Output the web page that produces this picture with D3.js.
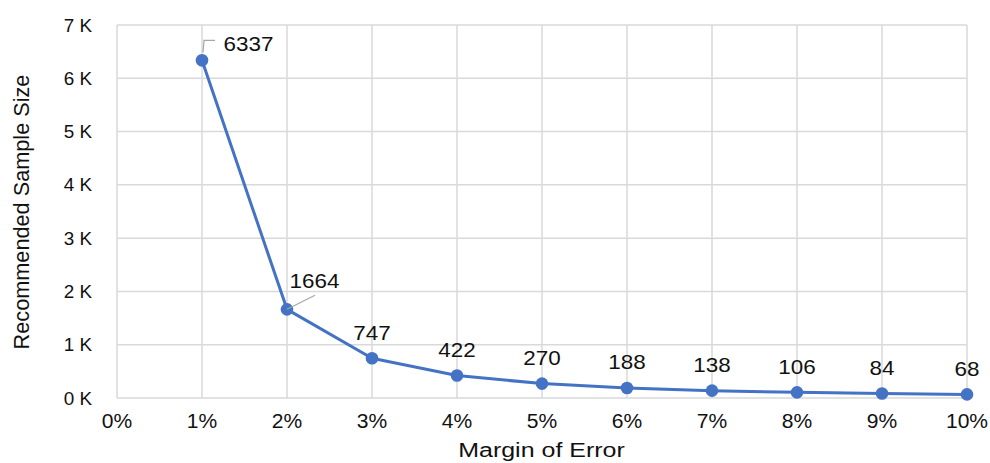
<!DOCTYPE html>
<html>
<head>
<meta charset="utf-8">
<script src="https://cdn.jsdelivr.net/npm/d3@7"></script>
<style>
  html, body { margin: 0; padding: 0; background: #fff; }
  svg { display: block; }
  text { font-family: "Liberation Sans", Arial, sans-serif; fill: #111; }
</style>
</head>
<body>
<svg id="chart" width="990" height="463"></svg>
<script>
// Margin of error (%) and the recommended sample size for each
const margins = [1, 2, 3, 4, 5, 6, 7, 8, 9, 10];
const sampleSizes = [6337, 1664, 747, 422, 270, 188, 138, 106, 84, 68];
const xTicks = [0, 1, 2, 3, 4, 5, 6, 7, 8, 9, 10];
const yTicks = [0, 1000, 2000, 3000, 4000, 5000, 6000, 7000];

const svg = d3.select("#chart");
const plotLeft = 117, plotRight = 967, plotTop = 25, plotBottom = 398;

const x = d3.scaleLinear().domain([0, 10]).range([plotLeft, plotRight]);
const y = d3.scaleLinear().domain([0, 7000]).range([plotBottom, plotTop]);

const grid = "#d9d9d9";

// text helper: places a label at (tx, ty) with a slight horizontal widening
function label(parent, tx, ty, str, size, sx, anchor) {
  const g = parent.append("g").attr("transform", `translate(${tx},${ty}) scale(${sx},1)`);
  g.append("text").attr("font-size", size).attr("text-anchor", anchor || "start").text(str);
  return g;
}

// vertical gridlines
svg.append("g").selectAll("line").data(xTicks).join("line")
  .attr("x1", d => x(d)).attr("x2", d => x(d))
  .attr("y1", plotTop).attr("y2", plotBottom)
  .attr("stroke", grid).attr("stroke-width", 1.5);

// horizontal gridlines
svg.append("g").selectAll("line").data(yTicks).join("line")
  .attr("x1", plotLeft).attr("x2", plotRight)
  .attr("y1", d => y(d)).attr("y2", d => y(d))
  .attr("stroke", grid).attr("stroke-width", 1.5);

// y tick labels
const yLab = svg.append("g");
yTicks.forEach(d => label(yLab, plotLeft - 25, y(d) + 6.5, (d / 1000) + " K", 18, 1.05, "end"));

// x tick labels
const xLab = svg.append("g");
xTicks.forEach(d => label(xLab, x(d), plotBottom + 29.5, d + "%", 19.5, 1.08, "middle"));

// axis titles
label(svg, (plotLeft + plotRight) / 2 - 0.5, 457, "Margin of Error", 20, 1.25, "middle");
svg.append("text")
  .attr("transform", `translate(29,${212}) rotate(-90)`)
  .attr("text-anchor", "middle").attr("font-size", 21.7)
  .text("Recommended Sample Size");

const color = "#4472C4";
const pts = margins.map((m, i) => ({ m, v: sampleSizes[i] }));

// series line
svg.append("path").datum(pts)
  .attr("fill", "none").attr("stroke", color).attr("stroke-width", 3)
  .attr("stroke-linejoin", "round")
  .attr("d", d3.line().x(d => x(d.m)).y(d => y(d.v)));

// markers
svg.append("g").selectAll("circle").data(pts).join("circle")
  .attr("cx", d => x(d.m)).attr("cy", d => y(d.v)).attr("r", 6.3)
  .attr("fill", color);

// data labels, with leader lines on the first two points
const labels = svg.append("g");
pts.forEach((d, i) => {
  const px = x(d.m), py = y(d.v);
  if (i === 0) {
    labels.append("path")
      .attr("d", `M${px + 1},${py - 8} L${px + 2},${py - 20} L${px + 13},${py - 20}`)
      .attr("fill", "none").attr("stroke", "#a6a6a6").attr("stroke-width", 1.2);
    label(labels, px + 21.5, py - 9.6, d.v, 19.5, 1.15, "start");
  } else if (i === 1) {
    labels.append("path")
      .attr("d", `M${px},${py} L${px + 28},${py - 14}`)
      .attr("fill", "none").attr("stroke", "#a6a6a6").attr("stroke-width", 1.2);
    label(labels, px + 27.5, py - 21, d.v, 19.5, 1.15, "middle");
  } else {
    label(labels, px, py - 18.5, d.v, 19.5, 1.15, "middle");
  }
});
</script>
</body>
</html>
